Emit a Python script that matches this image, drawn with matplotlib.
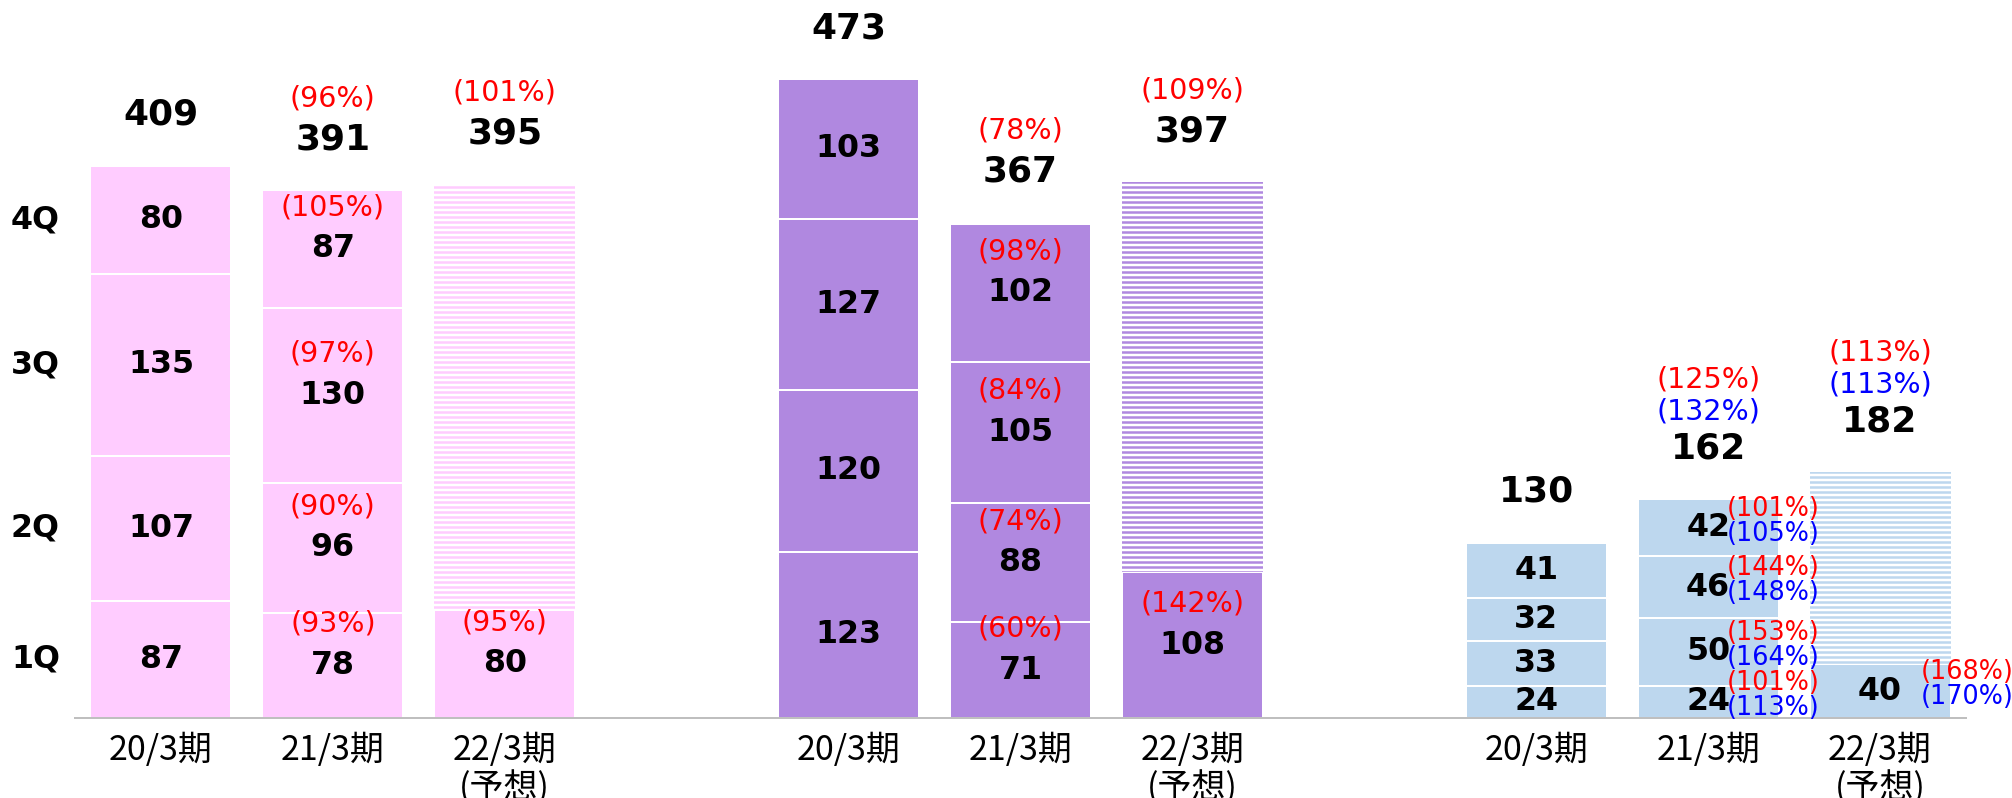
import matplotlib
matplotlib.use('Agg')
import matplotlib.pyplot as plt

# bars: 20/3, 21/3, 22/3(forecast) for each of the three groups
x_pos = [0, 1, 2, 4, 5, 6, 8, 9, 10]
tick_labels = ['20/3期', '21/3期', '22/3期\n(予想)'] * 3
group_colors = ['#FFCCFF', '#B088E0', '#BDD7EE']
forecast = [False, False, True] * 3

q1 = [87, 78, 80, 123, 71, 108, 24, 24, 40]
q2 = [107, 96, 0, 120, 88, 0, 33, 50, 0]
q3 = [135, 130, 0, 127, 105, 0, 32, 46, 0]
q4 = [80, 87, 0, 103, 102, 0, 41, 42, 0]
totals = [409, 391, 395, 473, 367, 397, 130, 162, 182]

# year-on-year ratios (red) and second ratio (blue), per quarter and total
red_q1 = ['', '93%', '95%', '', '60%', '142%', '', '101%', '168%']
red_q2 = ['', '90%', '', '', '74%', '', '', '153%', '']
red_q3 = ['', '97%', '', '', '84%', '', '', '144%', '']
red_q4 = ['', '105%', '', '', '98%', '', '', '101%', '']
blue_q1 = ['', '', '', '', '', '', '', '113%', '170%']
blue_q2 = ['', '', '', '', '', '', '', '164%', '']
blue_q3 = ['', '', '', '', '', '', '', '148%', '']
blue_q4 = ['', '', '', '', '', '', '', '105%', '']
red_total = ['', '96%', '101%', '', '78%', '109%', '', '125%', '113%']
blue_total = ['', '', '', '', '', '', '', '132%', '113%']

quarter_names = ['1Q', '2Q', '3Q', '4Q']

DPI = 120
plt.rcParams['font.family'] = ['DejaVu Sans']
plt.rcParams['hatch.linewidth'] = 1.5

fig = plt.figure(figsize=(2012 / DPI, 798 / DPI), dpi=DPI)
ax = fig.add_axes([75 / 2012, 80 / 798, 1891 / 2012, 702 / 798])

W = 0.82
RED = '#FF0000'
BLUE = '#0000FF'
SEG_FS = 19


def put(x, y, s, dx=0, dy=0, **kw):
    kw.setdefault('ha', 'center')
    ax.annotate(s, (x, y), xytext=(dx, dy), textcoords='offset points',
                va='center', **kw)


quarters = list(zip(q1, q2, q3, q4))
reds = list(zip(red_q1, red_q2, red_q3, red_q4))
blues = list(zip(blue_q1, blue_q2, blue_q3, blue_q4))

for i, x in enumerate(x_pos):
    c = group_colors[i // 3]
    bottom = 0
    for k, v in enumerate(quarters[i]):
        if v == 0:
            continue
        ax.bar(x, v, W, bottom=bottom, color=c, edgecolor='white', linewidth=1.2)
        yc = bottom + v / 2
        put(x, yc, str(v), fontsize=SEG_FS, fontweight='bold')
        r, b = reds[i][k], blues[i][k]
        if b:
            dx = 11.4 if not forecast[i] else 24.6
            put(x, yc, '(%s)' % r, dx=dx, dy=11.4, ha='left', fontsize=15.3, color=RED)
            put(x, yc, '(%s)' % b, dx=dx, dy=-3.6, ha='left', fontsize=15.3, color=BLUE)
        elif r:
            put(x, yc, '(%s)' % r, dy=25, fontsize=17.1, color=RED)
        bottom += v
    if forecast[i]:
        ax.bar(x, totals[i] - q1[i], W, bottom=q1[i], color='white',
               edgecolor=c, linewidth=0, hatch='----')
    top = max(bottom, totals[i])
    put(x, top, str(totals[i]), dy=30.6, fontsize=21.6, fontweight='bold')
    if blue_total[i]:
        put(x, top, '(%s)' % blue_total[i], dy=30.6 + 22.2, fontsize=17.1, color=BLUE)
        put(x, top, '(%s)' % red_total[i], dy=30.6 + 41.4, fontsize=17.1, color=RED)
    elif red_total[i]:
        put(x, top, '(%s)' % red_total[i], dy=30.6 + 24.6, fontsize=17.1, color=RED)

# quarter names next to the first bar
bottom = 0
for name, v in zip(quarter_names, quarters[0]):
    ax.text(-0.73, bottom + v / 2, name, ha='center', va='center',
            fontsize=SEG_FS, fontweight='bold')
    bottom += v

ax.set_xlim(-0.5, 10.5)
ax.set_ylim(0, 520)
ax.set_xticks(x_pos)
ax.set_xticklabels(tick_labels, fontsize=20.4, family=['Noto Sans CJK JP', 'DejaVu Sans'],
                   linespacing=1.12)
ax.tick_params(axis='x', length=0, pad=9)
ax.set_yticks([])
for s in ['top', 'right', 'left']:
    ax.spines[s].set_visible(False)
ax.spines['bottom'].set_color('#BFBFBF')
ax.spines['bottom'].set_linewidth(1.2)

fig.savefig('out.png', dpi=DPI)
